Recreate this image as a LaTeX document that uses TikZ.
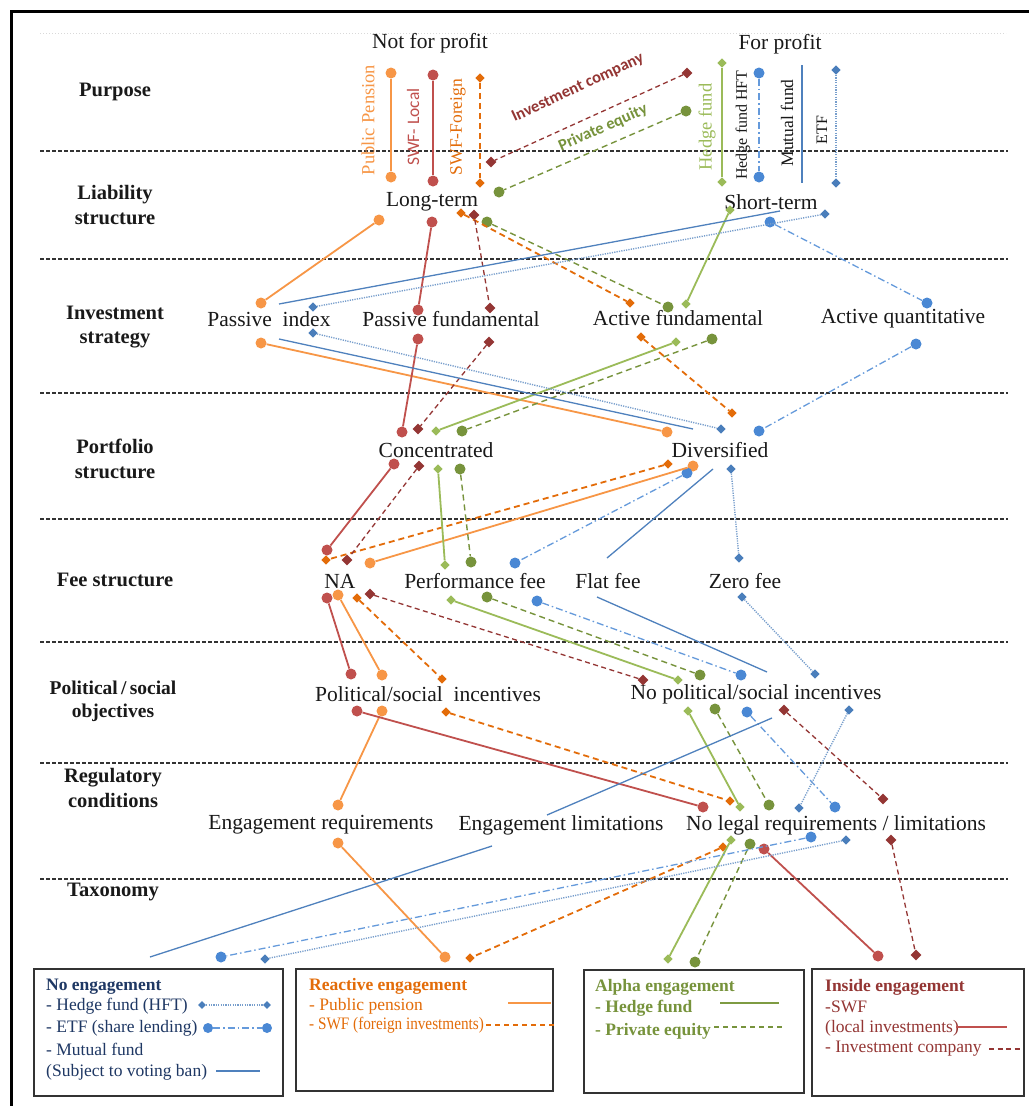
\documentclass[tikz,border=0pt]{standalone}
\usepackage{fontspec}
\setmainfont{Liberation Serif}
\newfontfamily\calfont{Carlito}
\usetikzlibrary{shapes.geometric}
\definecolor{ppc}{HTML}{F79646}
\definecolor{sfc}{HTML}{E36C09}
\definecolor{slc}{HTML}{C0504D}
\definecolor{icc}{HTML}{943634}
\definecolor{hfc}{HTML}{9BBB59}
\definecolor{pec}{HTML}{77933C}
\definecolor{hftc}{HTML}{4A88D4}
\definecolor{mfc}{HTML}{4F81BD}
\definecolor{etfc}{HTML}{4A7EBB}
\definecolor{navyc}{HTML}{1F3864}
\tikzset{
  mk circ/.style={circle, fill=#1, draw=none, inner sep=0pt, minimum size=11pt},
  mk dia/.style={diamond, fill=#1, draw=none, inner sep=0pt, minimum size=9.5pt},
  mk sq/.style={rectangle, fill=#1, draw=none, inner sep=0pt, minimum size=7.5pt},
  ppline/.style={ppc, line width=1.8pt},
  slline/.style={slc, line width=1.8pt},
  sfline/.style={sfc, line width=1.8pt, dash pattern=on 6pt off 4pt},
  icline/.style={icc, line width=1.3pt, dash pattern=on 5pt off 3.5pt},
  hfline/.style={hfc, line width=1.8pt},
  peline/.style={pec, line width=1.4pt, dash pattern=on 6pt off 4pt},
  hftline/.style={hftc!85!white, line width=1.3pt, dash pattern=on 7pt off 3pt on 1.5pt off 3pt},
  mfline/.style={mfc, line width=1.3pt},
  etfline/.style={etfc!75!white, line width=1.4pt, dash pattern=on 1.2pt off 1.2pt},
  seprule/.style={line width=1.5pt, black!80, dash pattern=on 4pt off 2pt},
  lbl/.style={font=\fontsize{21.5}{24}\selectfont, inner sep=0pt, text=black!90},
  rowlbl/.style={font=\fontsize{20.5}{24.5}\selectfont\bfseries, align=center, inner sep=0pt, text=black!90},
  leg/.style={font=\fontsize{17.5}{20}\selectfont, inner sep=0pt, anchor=west},
  legbox/.style={draw=black!80, line width=2pt, inner sep=0pt, anchor=north west},
}
\begin{document}
\begin{tikzpicture}[x=1pt,y=-1pt]
\useasboundingbox (0,0) rectangle (1029,1106);
\fill[white] (0,0) rectangle (1029,1106);
% frame
\draw[line width=3pt, black] (11,1106) -- (11,11) -- (1029,11);
\draw[black!15, dotted, line width=1pt] (40,33) -- (1006,33);
% separators
\foreach \yy in {151,259,393,519,642,763,879} \draw[seprule] (40,\yy) -- (1008,\yy);

% row labels
\node[rowlbl] (rPurpose) at (115,92) {Purpose};
\node[rowlbl] (rLiab) at (115,205) {Liability\\structure};
\node[rowlbl] (rInv) at (115,327) {Investment\\strategy};
\node[rowlbl] (rPort) at (115,459) {Portfolio\\structure};
\node[rowlbl] (rFee) at (115,580) {Fee structure};
\node[rowlbl, font=\fontsize{19.5}{23}\selectfont\bfseries] (rPol) at (113,701) {Political\,/\,social\\objectives};
\node[rowlbl] (rReg) at (113,788) {Regulatory\\conditions};
\node[rowlbl] (rTax) at (113,892) {Taxonomy};

% category labels
\node[lbl] (nfp) at (430,43) {Not for profit};
\node[lbl] (fp) at (780,44) {For profit};
\node[lbl] (lt) at (432,202) {Long-term};
\node[lbl] (st) at (771,202) {Short-term};
\node[lbl] (pidx) at (269,319) {Passive\ \ index};
\node[lbl] (pfun) at (451,319) {Passive fundamental};
\node[lbl] (afun) at (678,318) {Active fundamental};
\node[lbl] (aqua) at (903,319) {Active quantitative};
\node[lbl] (conc) at (436,450) {Concentrated};
\node[lbl] (divs) at (720,450) {Diversified};
\node[lbl] (na) at (340,581) {NA};
\node[lbl] (perf) at (475,581) {Performance fee};
\node[lbl] (flat) at (608,581) {Flat fee};
\node[lbl] (zero) at (745,581) {Zero fee};
\node[lbl] (polinc) at (428,694) {Political/social\ \ incentives};
\node[lbl] (nopol) at (756,694) {No political/social incentives};
\node[lbl] (engreq) at (321,825) {Engagement requirements};
\node[lbl] (englim) at (561,825) {Engagement limitations};
\node[lbl] (nolegal) at (836,825) {No legal requirements / limitations};

% rotated investor labels
\node[inner sep=0pt, rotate=90, text=ppc, font=\fontsize{18.5}{20}\selectfont] (tPP) at (368,120) {Public Pension};
\node[inner sep=0pt, rotate=90, text=slc, font=\calfont\fontsize{17.5}{20}\selectfont] (tSL) at (413,127) {SWF- Local};
\node[inner sep=0pt, rotate=90, text=sfc, font=\fontsize{17.5}{20}\selectfont] (tSF) at (458,127) {SWF-Foreign};
\node[inner sep=0pt, rotate=25, text=icc, font=\calfont\bfseries\fontsize{16.5}{20}\selectfont] (tIC) at (578,88) {Investment company};
\node[inner sep=0pt, rotate=24, text=pec, font=\calfont\bfseries\fontsize{16.5}{20}\selectfont] (tPE) at (603,128) {Private equity};
\node[inner sep=0pt, rotate=90, text=hfc, font=\fontsize{18.5}{20}\selectfont] (tHF) at (707,127) {Hedge fund};
\node[inner sep=0pt, rotate=90, text=black!90, font=\fontsize{16}{20}\selectfont] (tHFT) at (743,125) {Hedge fund HFT};
\node[inner sep=0pt, rotate=90, text=black!90, font=\fontsize{17.5}{20}\selectfont] (tMF) at (787,123) {Mutual fund};
\node[inner sep=0pt, rotate=90, text=black!90, font=\fontsize{16}{20}\selectfont] (tETF) at (822,130) {ETF};

% ---------- series markers ----------
% Public pension
\foreach \n/\x/\y in {1/391/73,2/391/177,3/379/220,4/261/303,5/261/343,6/667/432,7/693/466,8/370/563,9/338/595,10/382/675,11/382/711,12/338/805,13/338/843,14/445/957}
  \node[mk circ=ppc] (pp\n) at (\x,\y) {};
% SWF local
\foreach \n/\x/\y in {1/433/75,2/433/181,3/432/222,4/418/310,5/418/339,6/402/432,7/394/464,8/327/550,9/327/598,10/351/674,11/357/711,12/703/807,13/764/849,14/878/956}
  \node[mk circ=slc] (sl\n) at (\x,\y) {};
% SWF foreign
\foreach \n/\x/\y in {1/480/78,2/480/183,3/461/213,4/630/303,5/641/337,6/732/413,7/668/464,8/326/560,9/357/598,10/442/679,11/446/712,12/730/801,13/723/847,14/470/958}
  \node[mk dia=sfc] (sf\n) at (\x,\y) {};
% Investment company
\foreach \n/\x/\y in {1/687/73,2/491/162,3/474/215,4/490/308,5/489/342,6/418/429,7/419/466,8/347/560,9/370/594,10/643/680,11/784/710,12/883/799,13/891/840,14/916/955}
  \node[mk sq=icc, rotate=45] (ic\n) at (\x,\y) {};
% Hedge fund
\foreach \n/\x/\y in {1/722/63,2/722/182,3/730/210,4/686/304,5/676/342,6/436/431,7/438/469,8/445/565,9/451/600,10/678/680,11/688/711,12/740/807,13/731/840,14/668/959}
  \node[mk dia=hfc] (hf\n) at (\x,\y) {};
% Private equity
\foreach \n/\x/\y in {1/686/111,2/499/192,3/487/222,4/668/307,5/712/339,6/462/431,7/460/469,8/471/562,9/487/597,10/700/675,11/715/709,12/769/805,13/750/844,14/695/962}
  \node[mk circ=pec] (pe\n) at (\x,\y) {};
% Hedge fund HFT
\foreach \n/\x/\y in {1/759/73,2/759/177,3/770/222,4/927/303,5/916/344,6/759/431,7/687/473,8/515/563,9/537/601,10/741/675,11/747/712,12/835/807,13/811/837,14/221/957}
  \node[mk circ=hftc] (hft\n) at (\x,\y) {};
% Mutual fund (no markers)
\foreach \n/\x/\y in {1/802/65,2/802/183,3/780/211,4/279/304,5/279/339,6/693/429,7/713/469,8/607/558,9/597/597,10/767/672,11/772/718,12/547/815,13/492/846,14/150/957}
  \coordinate (mf\n) at (\x,\y);
% ETF
\foreach \n/\x/\y in {1/836/70,2/836/183,3/825/214,4/313/307,5/313/333,6/721/429,7/731/469,8/739/558,9/742/597,10/815/674,11/849/710,12/799/808,13/846/840,14/265/959}
  \node[mk dia=etfc] (etf\n) at (\x,\y) {};

% ---------- series connectors ----------
\foreach \a/\b in {1/2,3/4,5/6,7/8,9/10,11/12,13/14}{
  \draw[ppline] (pp\a) -- (pp\b);
  \draw[slline] (sl\a) -- (sl\b);
  \draw[sfline] (sf\a) -- (sf\b);
  \draw[icline] (ic\a) -- (ic\b);
  \draw[hfline] (hf\a) -- (hf\b);
  \draw[peline] (pe\a) -- (pe\b);
  \draw[hftline] (hft\a) -- (hft\b);
  \draw[mfline] (mf\a) -- (mf\b);
  \draw[etfline] (etf\a) -- (etf\b);
}

% ---------- legend boxes ----------
\node[legbox, minimum width=249pt, minimum height=127pt] (box1) at (33,968) {};
\node[legbox, minimum width=257pt, minimum height=122pt] (box2) at (295,968) {};
\node[legbox, minimum width=220pt, minimum height=123pt] (box3) at (583,969) {};
\node[legbox, minimum width=212pt, minimum height=127pt] (box4) at (811,968) {};

% box 1
\node[leg, text=navyc, font=\fontsize{17.5}{20}\selectfont\bfseries] (l1t) at (46,987) {No engagement};
\node[leg, text=navyc] (l1a) at (46,1006) {- Hedge fund (HFT)};
\node[leg, text=navyc] (l1b) at (46,1028) {- ETF (share lending)};
\node[leg, text=navyc] (l1c) at (46,1049) {- Mutual fund};
\node[leg, text=navyc] (l1d) at (46,1072) {(Subject to voting ban)};
\node[mk dia=etfc, minimum size=8pt] (lg1a) at (202,1005) {};
\node[mk dia=etfc, minimum size=8pt] (lg1b) at (267,1005) {};
\draw[etfline] (lg1a) -- (lg1b);
\node[mk circ=hftc, minimum size=10pt] (lg2a) at (208,1028) {};
\node[mk circ=hftc, minimum size=10pt] (lg2b) at (267,1028) {};
\draw[hftline] (lg2a) -- (lg2b);
\coordinate (lg3a) at (216,1071);
\coordinate (lg3b) at (260,1071);
\draw[mfline] (lg3a) -- (lg3b);

% box 2
\node[leg, text=sfc, font=\fontsize{17.5}{20}\selectfont\bfseries] (l2t) at (309,986) {Reactive engagement};
\node[leg, text=sfc] (l2a) at (309,1006) {- Public pension};
\node[leg, text=sfc] (l2b) at (309,1025) {\scalebox{0.87}[1]{- SWF (foreign investments)}};
\coordinate (lg4a) at (508,1003);
\coordinate (lg4b) at (551,1003);
\draw[ppline, line width=1.5pt] (lg4a) -- (lg4b);
\coordinate (lg5a) at (486,1025);
\coordinate (lg5b) at (556,1025);
\draw[sfline, line width=1.5pt, dash pattern=on 5pt off 4pt] (lg5a) -- (lg5b);

% box 3
\node[leg, text=pec, font=\fontsize{17.5}{20}\selectfont\bfseries] (l3t) at (595,987) {Alpha engagement};
\node[leg, text=pec, font=\fontsize{17.5}{20}\selectfont\bfseries] (l3a) at (595,1008) {- Hedge fund};
\node[leg, text=pec, font=\fontsize{17.5}{20}\selectfont\bfseries] (l3b) at (595,1031) {- Private equity};
\coordinate (lg6a) at (720,1003);
\coordinate (lg6b) at (779,1003);
\draw[hfline, line width=1.5pt, pec!80!hfc] (lg6a) -- (lg6b);
\coordinate (lg7a) at (714,1027);
\coordinate (lg7b) at (782,1027);
\draw[peline, line width=1.3pt, dash pattern=on 5pt off 4pt] (lg7a) -- (lg7b);

% box 4
\node[leg, text=icc, font=\fontsize{17.5}{20}\selectfont\bfseries] (l4t) at (825,987) {Inside engagement};
\node[leg, text=icc] (l4a) at (825,1007) {-SWF};
\node[leg, text=icc] (l4b) at (825,1028) {(local investments)};
\node[leg, text=icc] (l4c) at (825,1049) {- Investment company};
\coordinate (lg8a) at (956,1027);
\coordinate (lg8b) at (1007,1027);
\draw[slline, line width=1.5pt] (lg8a) -- (lg8b);
\coordinate (lg9a) at (989,1049);
\coordinate (lg9b) at (1021,1049);
\draw[icline] (lg9a) -- (lg9b);
\end{tikzpicture}
\end{document}
